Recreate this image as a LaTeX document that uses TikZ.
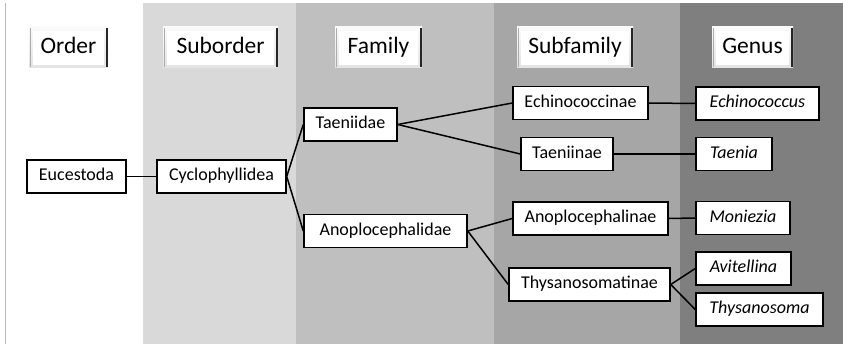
\documentclass[tikz,border=0pt]{standalone}
\usepackage{fontspec}
\setmainfont{Carlito}
\usetikzlibrary{calc}
\definecolor{bandA}{HTML}{D9D9D9}
\definecolor{bandB}{HTML}{BFBFBF}
\definecolor{bandC}{HTML}{A6A6A6}
\definecolor{bandD}{HTML}{7F7F7F}
\tikzset{
  taxon/.style={draw=black, line width=1.5pt, fill=white, minimum height=33pt,
    inner xsep=4pt, inner ysep=0pt, text height=12.5pt, text depth=4pt,
    font=\fontsize{18}{20}\selectfont},
  genus/.style={taxon, font=\fontsize{18}{20}\selectfont\itshape},
  link/.style={line width=1.5pt, black},
  rank/.style={minimum height=41pt, inner sep=0pt, text height=16.5pt, text depth=5pt,
    font=\fontsize{23.5}{26}\selectfont,
    top color=gray!4, bottom color=gray!22,
    path picture={
      \fill[white] ($(path picture bounding box.north west)+(4pt,-4pt)$)
        rectangle ($(path picture bounding box.south east)+(-4pt,3pt)$);
      \draw[gray!65, line width=0.8pt]
        ($(path picture bounding box.north west)+(1.5pt,-1pt)$) --
        ($(path picture bounding box.south west)+(1.5pt,1pt)$);
      \draw[black!85, line width=1.8pt]
        ($(path picture bounding box.north east)+(-1pt,-1pt)$) --
        ($(path picture bounding box.south east)+(-1pt,1pt)$);
    }},
}
\begin{document}
\begin{tikzpicture}[x=1pt, y=-1pt]
  \useasboundingbox (0,0) rectangle (843,344);
  % rank bands
  \fill[white] (0,0) rectangle (843,344);
  \fill[bandA] (143,3) rectangle (296,344);
  \fill[bandB] (296,3) rectangle (494,344);
  \fill[bandC] (494,3) rectangle (680,344);
  \fill[bandD] (680,3) rectangle (843,344);
  \draw[gray!55, line width=1.2pt] (5.5,3) -- (5.5,344);

  % rank headers
  \node[rank, minimum width=79pt]  (hOrder)     at (68.5,47.5)  {Order};
  \node[rank, minimum width=115pt] (hSuborder)  at (220.5,47.5) {Suborder};
  \node[rank, minimum width=87pt]  (hFamily)    at (378.5,47.5) {Family};
  \node[rank, minimum width=116pt] (hSubfamily) at (575,47.5)   {Subfamily};
  \node[rank, minimum width=81pt]  (hGenus)     at (752.5,47.5) {Genus};

  % taxa
  \node[taxon, minimum width=99pt]  (euc) at (76.5,176.5)  {Eucestoda};
  \node[taxon, minimum width=129pt] (cyc) at (221.5,176.5) {Cyclophyllidea};
  \node[taxon, minimum width=93pt]  (tae) at (350.5,124.5) {Taeniidae};
  \node[taxon, minimum width=163pt] (ano) at (385.5,231)   {Anoplocephalidae};
  \node[taxon, minimum width=135pt] (ech) at (580.5,103)   {Echinococcinae};
  \node[taxon, minimum width=92pt]  (tin) at (567,154)     {Taeniinae};
  \node[taxon, minimum width=155pt] (anl) at (590.5,218.5) {Anoplocephalinae};
  \node[taxon, minimum width=161pt] (thy) at (589.5,284.5) {Thysanosomatinae};
  \node[genus, minimum width=123pt] (gEch) at (757.5,103.5) {Echinococcus};
  \node[genus, minimum width=76pt]  (gTae) at (734,154)     {Taenia};
  \node[genus, minimum width=94pt]  (gMon) at (743,218)     {Moniezia};
  \node[genus, minimum width=95pt]  (gAvi) at (743.5,268.5) {Avitellina};
  \node[genus, minimum width=127pt] (gThy) at (759.5,309.5) {Thysanosoma};

  % connectors
  \draw[link] (euc.east) -- (cyc.west);
  \draw[link] (cyc.east) -- (tae.west);
  \draw[link] (cyc.east) -- (ano.west);
  \draw[link] (tae.east) -- (ech.west);
  \draw[link] (tae.east) -- (tin.west);
  \draw[link] (ano.east) -- (anl.west);
  \draw[link] (ano.east) -- (thy.west);
  \draw[link] (ech.east) -- (gEch.west);
  \draw[link] (tin.east) -- (gTae.west);
  \draw[link] (anl.east) -- (gMon.west);
  \draw[link] (thy.east) -- (gAvi.west);
  \draw[link] (thy.east) -- (gThy.west);
\end{tikzpicture}
\end{document}
